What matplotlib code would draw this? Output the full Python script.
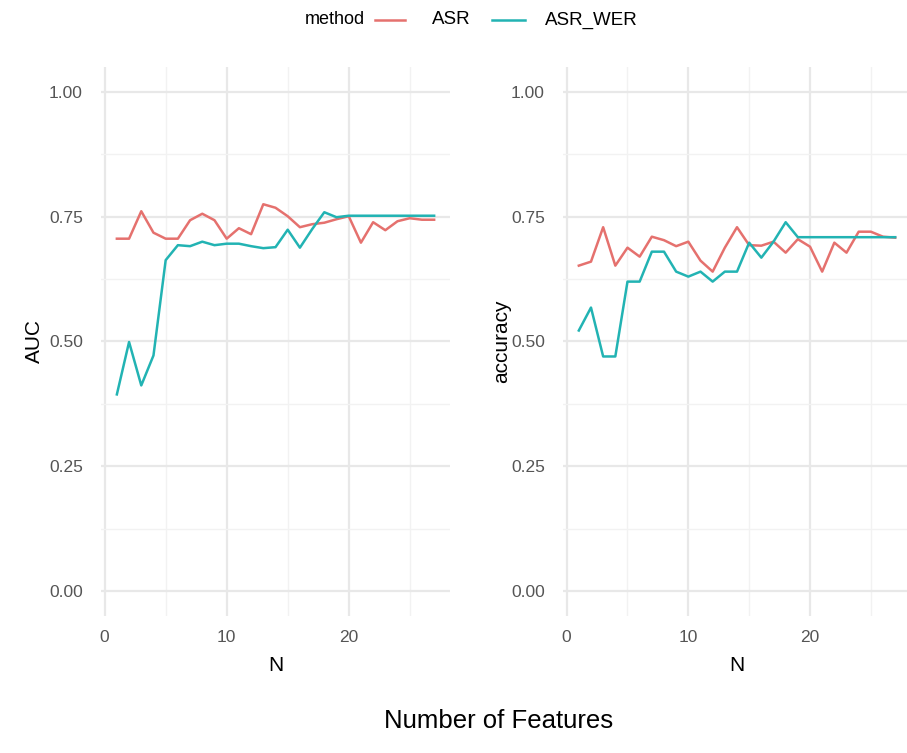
#python3

import numpy as np
import matplotlib.pyplot as plt
from matplotlib.lines import Line2D

plt.rcParams['font.family'] = ['Liberation Sans', 'DejaVu Sans']

#data, N = 1..27
N = np.arange(1, 28)
auc_asr = [0.706, 0.706, 0.761, 0.718, 0.706, 0.706, 0.743, 0.756, 0.743, 0.706,
           0.727, 0.715, 0.775, 0.768, 0.751, 0.729, 0.735, 0.738, 0.745, 0.751,
           0.698, 0.739, 0.723, 0.741, 0.747, 0.744, 0.744]
auc_wer = [0.394, 0.499, 0.412, 0.472, 0.663, 0.693, 0.691, 0.700, 0.693, 0.696,
           0.696, 0.691, 0.687, 0.689, 0.724, 0.688, 0.725, 0.759, 0.749, 0.752,
           0.752, 0.752, 0.752, 0.752, 0.752, 0.752, 0.752]
acc_asr = [0.652, 0.660, 0.729, 0.652, 0.688, 0.670, 0.710, 0.703, 0.691, 0.700,
           0.662, 0.640, 0.688, 0.729, 0.693, 0.692, 0.700, 0.678, 0.705, 0.690,
           0.640, 0.698, 0.678, 0.720, 0.720, 0.710, 0.708]
acc_wer = [0.522, 0.568, 0.470, 0.470, 0.620, 0.620, 0.680, 0.680, 0.640, 0.630,
           0.640, 0.620, 0.640, 0.640, 0.698, 0.668, 0.700, 0.739, 0.709, 0.709,
           0.709, 0.709, 0.709, 0.709, 0.709, 0.709, 0.709]

methods = ['ASR', 'ASR_WER']
colors = ['#E5716E', '#22B3B3']
W, H = 907, 753

fig = plt.figure(figsize=(W/100, H/100), dpi=100)

def make_panel(left, right, ylabel, ys):
    ax = fig.add_axes([left/W, (H-616)/H, (right-left)/W, (616-67)/H])
    for y, c in zip(ys, colors):
        ax.plot(N, y, color=c, lw=1.8)
    ax.set_xlim(-0.3, 28.3)
    ax.set_ylim(-0.05, 1.05)
    ax.set_xticks([0, 10, 20])
    ax.set_xticks([5, 15, 25], minor=True)
    ax.set_yticks([0, 0.25, 0.5, 0.75, 1.0])
    ax.set_yticklabels(['0.00', '0.25', '0.50', '0.75', '1.00'])
    ax.set_yticks([0.125, 0.375, 0.625, 0.875], minor=True)
    ax.grid(which='major', color='#E8E8E8', lw=1.6)
    ax.grid(which='minor', color='#F2F2F2', lw=1.0)
    ax.set_axisbelow(True)
    for s in ax.spines.values():
        s.set_visible(False)
    ax.tick_params(which='both', length=0)
    ax.tick_params(axis='y', labelsize=12.5, labelcolor='#555555', pad=13)
    ax.tick_params(axis='x', labelsize=12.5, labelcolor='#555555', pad=10)
    ax.set_xlabel('N', fontsize=15, labelpad=8)
    ax.set_ylabel(ylabel, fontsize=15, labelpad=4)
    return ax

ax1 = make_panel(101, 450, 'AUC', [auc_asr, auc_wer])
ax2 = make_panel(563, 911, 'accuracy', [acc_asr, acc_wer])
ax2.yaxis.labelpad = 0

#legend on top
ly = 1 - 20/H
fig.text(305/W, ly, 'method', fontsize=13, ha='left', va='center')
fig.add_artist(Line2D([375/W, 405/W], [ly, ly], color=colors[0], lw=1.8))
fig.text(432/W, ly, methods[0], fontsize=13.5, ha='left', va='center')
fig.add_artist(Line2D([492/W, 525/W], [ly, ly], color=colors[1], lw=1.8))
fig.text(545/W, ly, methods[1], fontsize=13.5, ha='left', va='center')

fig.text(499/W, 1 - 721/H, 'Number of Features', fontsize=18.5, ha='center', va='center')

plt.savefig('out.png', dpi=100)
